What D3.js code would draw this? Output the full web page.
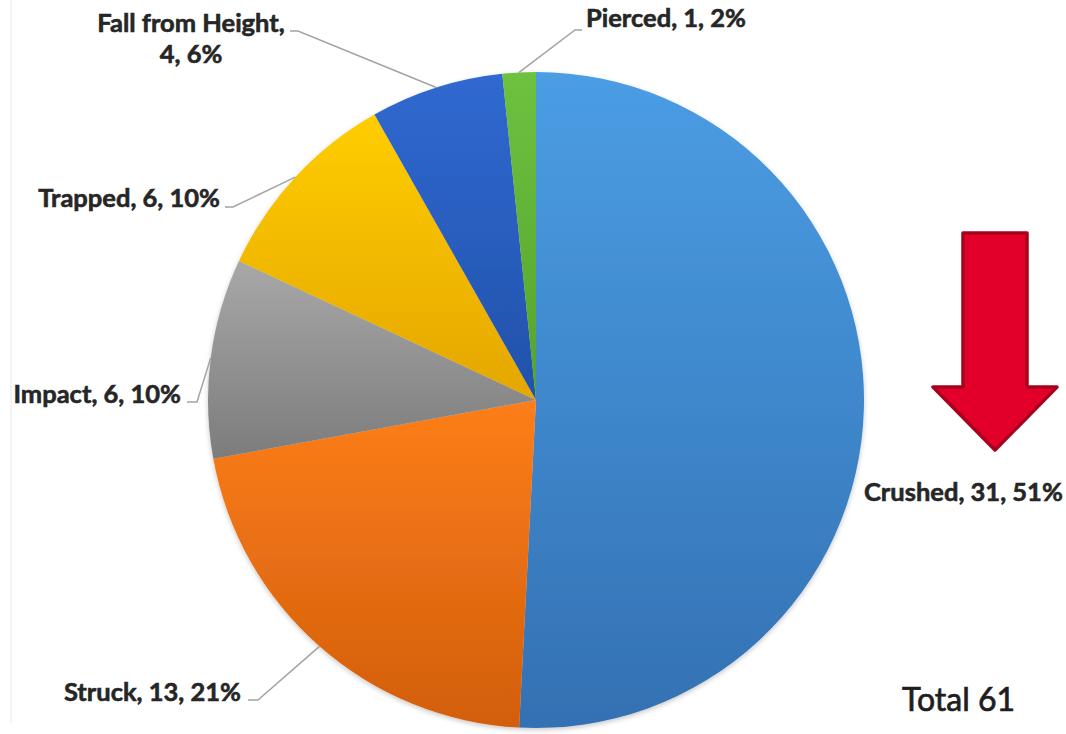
<!DOCTYPE html>
<html>
<head>
<meta charset="utf-8">
<script src="https://cdn.jsdelivr.net/npm/d3@7"></script>
<style>
  html, body { margin: 0; padding: 0; background: #ffffff; }
  svg { display: block; }
  .lbl { font-family: "Lato", "Open Sans", sans-serif; font-weight: 700; font-size: 25.5px; fill: #262626; stroke: #262626; stroke-width: 0.6px; }
  .total { font-family: "Lato", "Open Sans", sans-serif; font-weight: 400; font-size: 32px; fill: #1e1e1e; stroke: #1e1e1e; stroke-width: 0.7px; }
</style>
</head>
<body>
<svg id="chart" width="1066" height="734"></svg>
<script>
// Fatal incident causes, clockwise from 12 o'clock
const categories = ["Crushed", "Struck", "Impact", "Trapped", "Fall from Height", "Pierced"];
const counts = [31, 13, 6, 6, 4, 1];
const percentLabels = [51, 21, 10, 10, 6, 2];
const totalLabel = "Total 61";

// slice gradient stops (top, bottom)
const topColors = ["#4b9de4", "#fd7e1a", "#a8a8a8", "#ffcd00", "#3069d1", "#6dc23f"];
const bottomColors = ["#3371b3", "#d25e0b", "#7c7c7c", "#e4a600", "#2251aa", "#55a22e"];

const W = 1066, H = 734;
const cx = 536, cy = 400, R = 328;

// label placement: text anchor point, alignment, and leader start/stub (null = no leader)
const labelLayout = {
  "Crushed":          { x: 864, y: 501, anchor: "start", lines: 1, lead: null },
  "Struck":           { x: 241, y: 701, anchor: "end",   lines: 1, lead: [[248, 700], [258, 700]] },
  "Impact":           { x: 181, y: 403, anchor: "end",   lines: 1, lead: [[187, 402], [197, 402]] },
  "Trapped":          { x: 220, y: 207, anchor: "end",   lines: 1, lead: [[225, 207], [233, 207]] },
  "Fall from Height": { x: 191, y: 32,  anchor: "middle", lines: 2, lead: [[290, 31], [298, 31]] },
  "Pierced":          { x: 586, y: 27,  anchor: "start", lines: 1, lead: [[582, 30], [575, 30]] }
};

const svg = d3.select("#chart");
const defs = svg.append("defs");

categories.forEach((c, i) => {
  const g = defs.append("linearGradient")
    .attr("id", "grad" + i)
    .attr("x1", 0).attr("y1", 0).attr("x2", 0).attr("y2", 1);
  g.append("stop").attr("offset", "0%").attr("stop-color", topColors[i]);
  g.append("stop").attr("offset", "100%").attr("stop-color", bottomColors[i]);
});

const shadow = defs.append("filter").attr("id", "pieShadow")
  .attr("x", "-10%").attr("y", "-10%").attr("width", "120%").attr("height", "120%");
shadow.append("feDropShadow")
  .attr("dx", 0).attr("dy", 2).attr("stdDeviation", 2.5)
  .attr("flood-color", "#000").attr("flood-opacity", 0.22);

// faint frame line on the left
svg.append("line")
  .attr("x1", 11).attr("x2", 11).attr("y1", 0).attr("y2", 723)
  .attr("stroke", "#e8e8e8").attr("stroke-width", 1);

const data = categories.map((c, i) => ({ category: c, count: counts[i], pct: percentLabels[i], idx: i }));

const pie = d3.pie().value(d => d.count).sort(null);
const arcs = pie(data);

const arc = d3.arc().innerRadius(0).outerRadius(R);
const edgeArc = d3.arc().innerRadius(R).outerRadius(R);

const pieG = svg.append("g")
  .attr("transform", `translate(${cx},${cy})`)
  .attr("filter", "url(#pieShadow)");

pieG.selectAll("path.slice")
  .data(arcs)
  .join("path")
  .attr("class", "slice")
  .attr("d", arc)
  .attr("fill", d => `url(#grad${d.data.idx})`);

// leader lines from each label to the rim at its slice's mid-angle
const lineGen = d3.line();
svg.append("g").selectAll("path.leader")
  .data(arcs.filter(d => labelLayout[d.data.category].lead))
  .join("path")
  .attr("class", "leader")
  .attr("fill", "none")
  .attr("stroke", "#a3a3a3")
  .attr("stroke-width", 1.5)
  .attr("d", d => {
    const L = labelLayout[d.data.category];
    const [ex, ey] = edgeArc.centroid(d);
    return lineGen([...L.lead, [cx + ex, cy + ey]]);
  });

// data labels
const labelG = svg.append("g");
arcs.forEach(d => {
  const L = labelLayout[d.data.category];
  const t = labelG.append("text")
    .attr("class", "lbl")
    .attr("x", L.x).attr("y", L.y)
    .attr("text-anchor", L.anchor);
  if (L.lines === 2) {
    t.append("tspan").attr("x", L.x).attr("y", L.y).text(`${d.data.category},`);
    t.append("tspan").attr("x", L.x).attr("y", L.y + 31).text(`${d.data.count}, ${d.data.pct}%`);
  } else {
    t.text(`${d.data.category}, ${d.data.count}, ${d.data.pct}%`);
  }
});

// total
svg.append("text")
  .attr("class", "total")
  .attr("x", 902).attr("y", 711)
  .text(totalLabel);

// red downward arrow
const arrowPts = [
  [963, 233], [1027, 233], [1027, 387], [1057, 387],
  [995, 450], [933, 387], [963, 387]
];
svg.append("polygon")
  .attr("points", arrowPts.map(p => p.join(",")).join(" "))
  .attr("fill", "#e2002b")
  .attr("stroke", "#a9001d")
  .attr("stroke-width", 3.5)
  .attr("stroke-linejoin", "round");
</script>
</body>
</html>
